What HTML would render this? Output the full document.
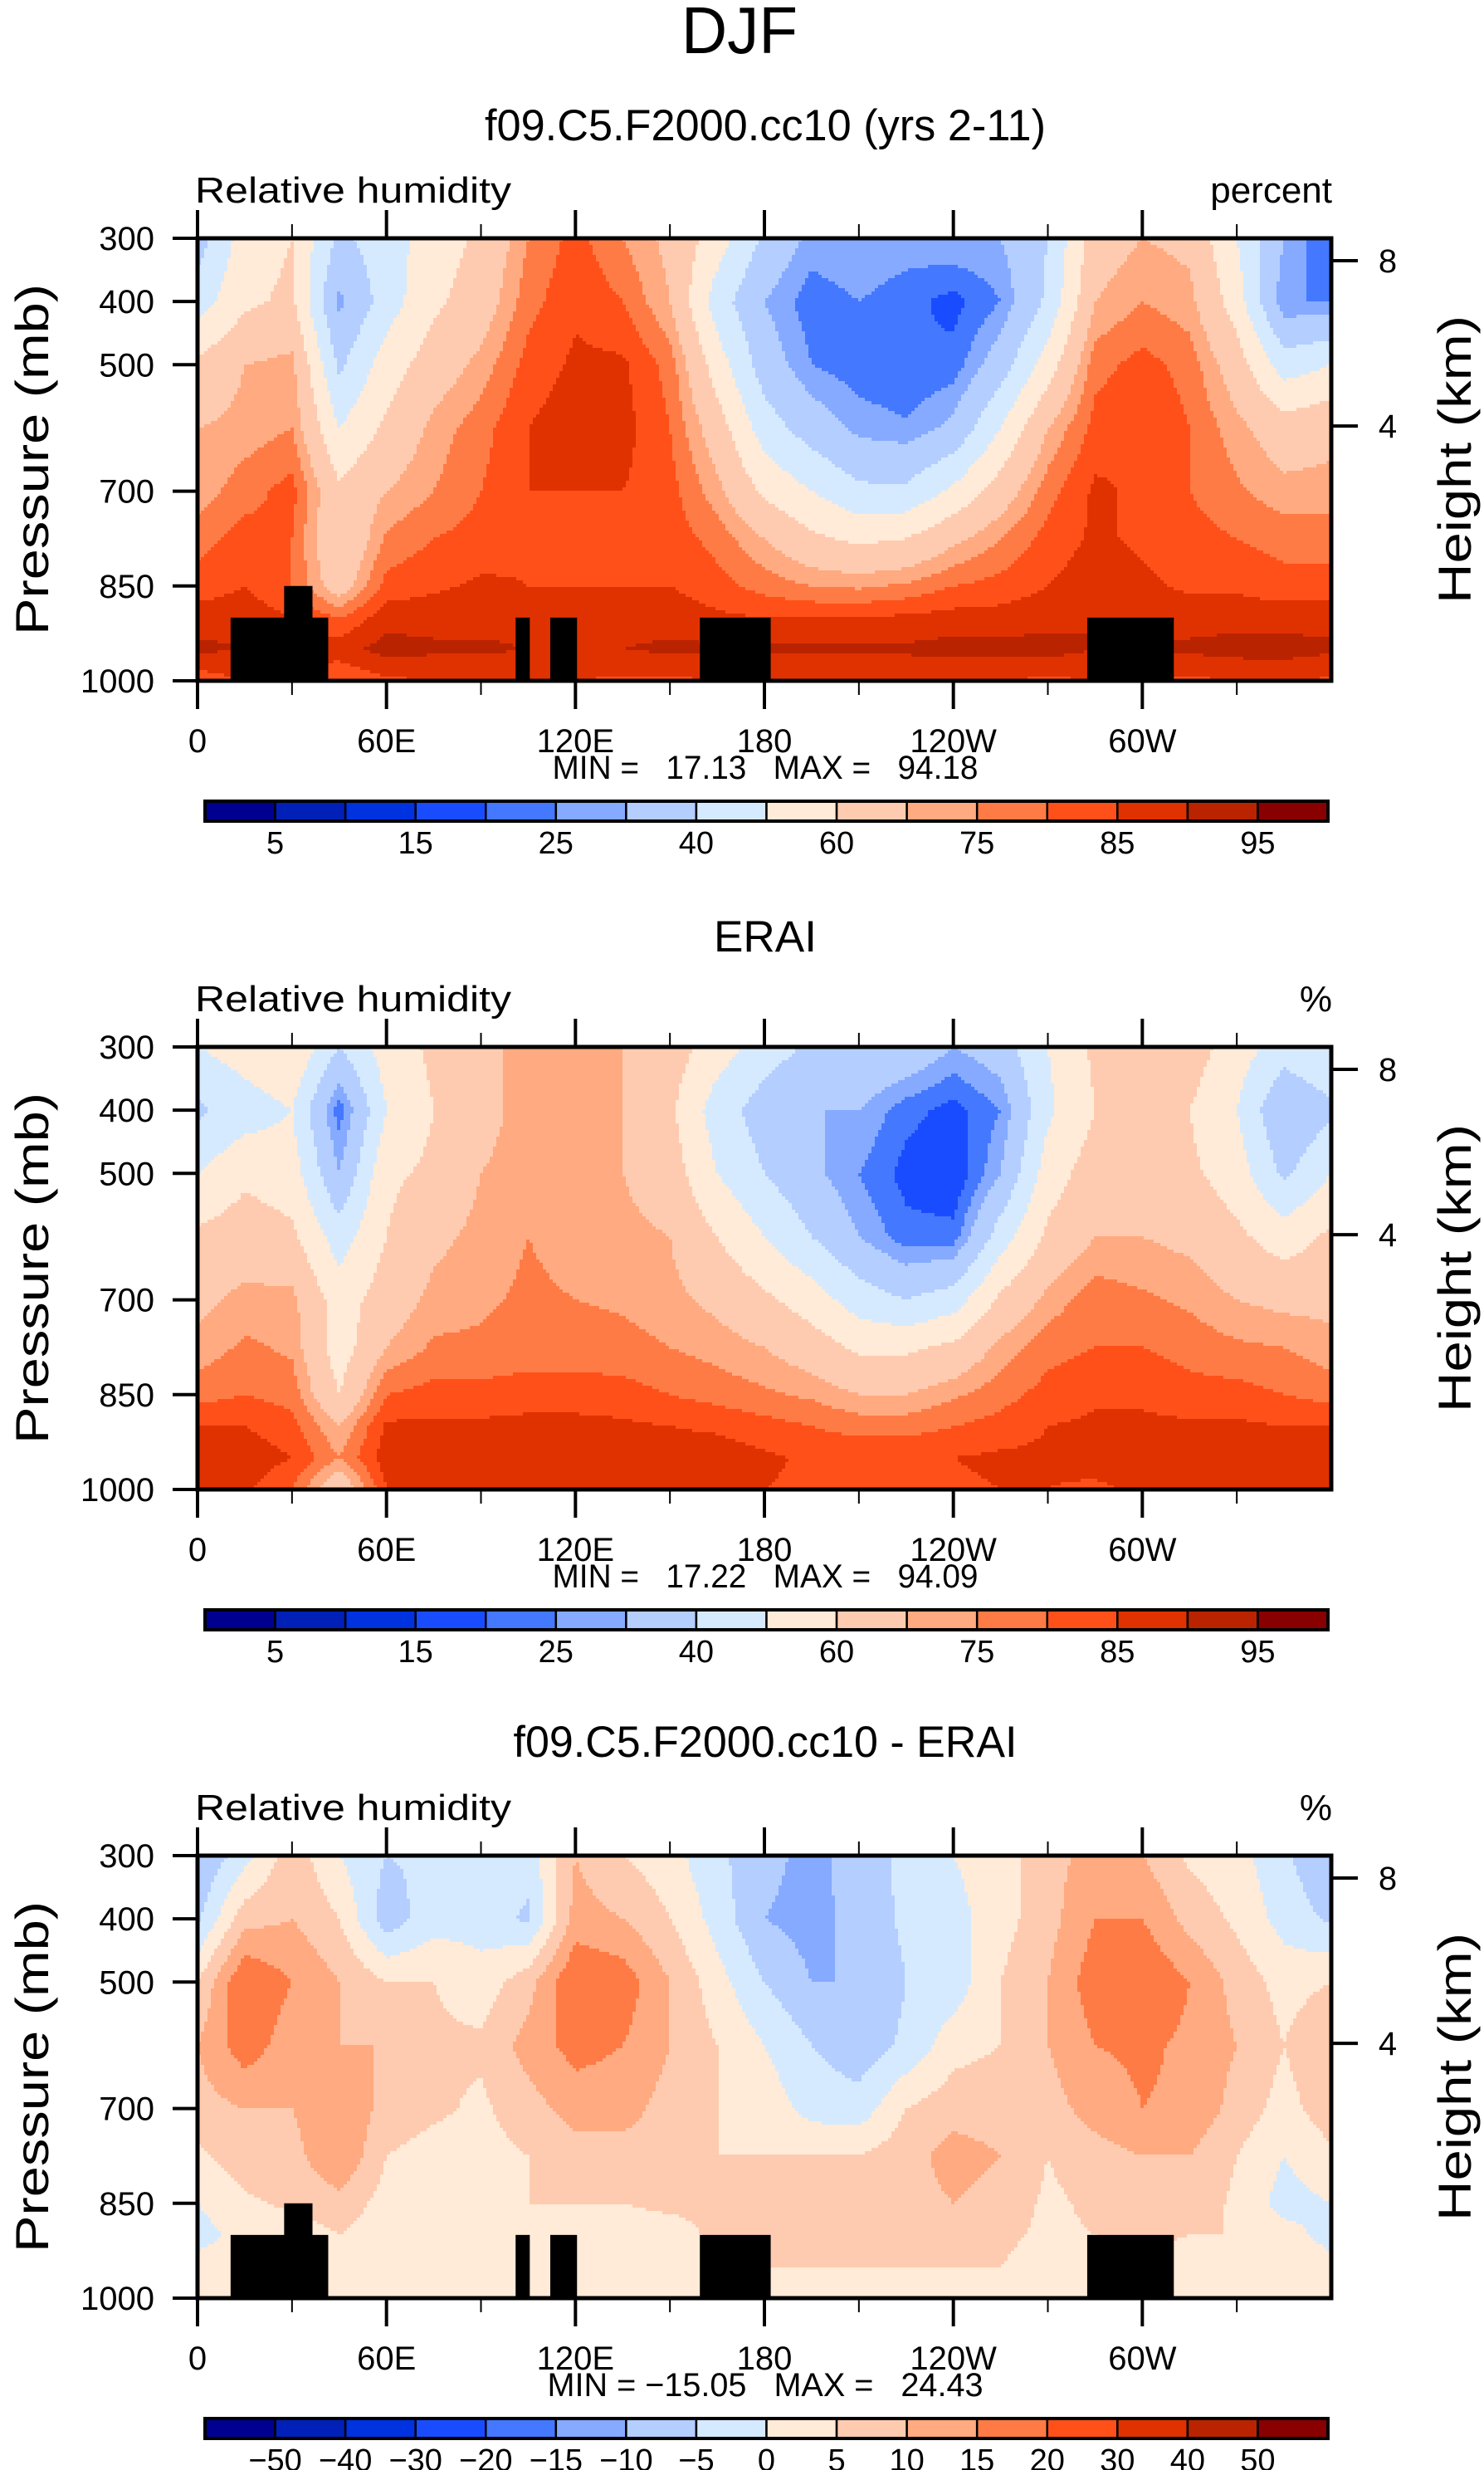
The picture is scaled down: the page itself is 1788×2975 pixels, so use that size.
<!DOCTYPE html>
<html><head><meta charset="utf-8"><style>
html,body{margin:0;padding:0;background:#fff;}
svg{display:block;font-family:"Liberation Sans",sans-serif;}
</style></head><body>
<svg id="fig" xmlns="http://www.w3.org/2000/svg" width="1788" height="2975" viewBox="0 0 1788 2975">
<rect x="0" y="0" width="1788" height="2975" fill="#fff"/>
<text x="891" y="64" font-size="80" text-anchor="middle" textLength="140" lengthAdjust="spacingAndGlyphs">DJF</text>
</svg>
<script>
const lons=[0,15,30,45,60,75,90,105,120,135,150,165,180,195,210,225,240,255,270,285,300,315,330,345,360];
const pressures=[300,400,500,600,700,775,850,900,950,1000];
const rhModel=[
[35,45,62,70,72,78,82,88,91,82],[55,58,70,72,78,82,85,88,90,85],[60,62,72,75,82,80,80,85,88,85],
[38,28,38,50,62,60,65,80,88,80],[45,45,55,62,70,76,82,88,92,84],[55,58,65,72,75,80,84,88,91,85],
[62,65,72,78,80,82,86,88,91,85],[75,78,82,85,85,84,85,88,90,85],[82,84,86,88,85,84,85,88,90,85],
[75,80,86,87,85,83,85,88,90,84],[68,70,78,80,82,83,85,88,91,84],[55,45,55,65,72,78,82,86,91,85],
[38,30,35,45,58,70,78,85,91,85],[28,22,25,35,50,62,75,85,91,85],[30,25,22,28,42,58,74,85,91,85],
[28,22,20,26,42,60,76,86,91,85],[30,18,22,32,52,68,80,87,92,85],[30,25,35,50,65,75,82,87,92,85],
[40,42,55,70,78,82,85,88,92,84],[65,70,78,82,86,86,88,90,90,85],[70,75,82,85,84,84,86,88,90,85],
[68,72,78,80,80,82,84,88,91,84],[50,55,65,72,76,80,84,88,92,85],[30,25,45,65,72,78,82,88,92,86],
[20,25,50,68,72,78,82,88,91,84]];
const rhObs=[
[50,38,50,62,68,72,78,85,88,85],[55,45,58,65,72,76,80,85,88,86],[60,50,55,62,72,74,78,82,85,80],
[40,22,30,45,55,55,60,70,75,62],[55,50,58,60,65,70,80,86,88,85],[62,60,62,68,72,76,82,86,89,86],
[68,68,70,72,74,76,82,86,89,86],[72,72,72,75,76,78,82,87,89,86],[72,72,72,73,75,78,82,87,89,86],
[70,70,70,72,74,77,82,86,89,86],[65,62,65,70,72,75,80,85,88,86],[55,45,50,60,68,73,78,84,88,86],
[45,35,40,50,62,70,76,82,86,85],[38,30,32,40,55,65,74,80,84,84],[40,30,25,30,45,58,70,78,84,84],
[38,22,18,22,40,58,70,78,84,84],[30,18,15,22,45,62,74,80,85,84],[35,25,30,45,62,72,78,82,86,85],
[50,48,55,62,72,78,82,85,86,85],[62,60,65,70,78,80,84,86,87,84],[65,62,65,70,76,80,84,86,88,86],
[65,60,62,68,74,78,82,86,88,86],[55,50,55,62,70,76,82,86,88,86],[45,30,38,55,68,75,80,85,87,86],
[50,38,50,62,68,72,78,85,88,85]];
const rhDiff=[
[-10,-6,5,10,8,4,0,-2,2,2],[-2,8,20,18,10,8,4,2,2,2],[8,10,15,12,10,8,6,2,2,2],
[0,5,10,10,15,15,8,5,3,3],[-5,-8,5,10,8,5,3,2,2,2],[-4,-2,5,6,6,3,3,3,2,2],
[0,-2,2,6,4,3,3,3,2,2],[-3,-6,8,12,8,5,5,2,2,1],[10,12,20,17,12,8,5,3,2,2],
[5,10,18,15,12,8,5,3,2,2],[2,5,10,10,8,8,6,3,2,2],[-4,-2,2,5,5,5,6,6,4,2],
[-8,-10,-5,0,3,5,6,6,5,3],[-12,-12,-10,-5,-2,5,6,6,5,3],[-7,-8,-10,-8,-3,5,7,7,5,3],
[-4,-4,-5,-4,5,8,8,7,5,3],[0,-2,-3,3,8,12,10,8,5,3],[3,3,5,5,8,10,8,6,5,3],
[8,8,10,10,8,5,4,4,3,2],[12,15,18,15,12,8,6,5,3,2],[10,15,20,16,15,10,8,6,4,2],
[4,8,15,14,14,10,8,5,3,2],[2,4,8,10,8,5,4,5,3,2],[-4,-2,3,5,3,0,-2,2,3,2],
[-10,-6,5,10,8,4,0,-2,2,2]];
const levelsRH=[5,10,15,20,25,30,40,50,60,70,75,80,85,90,95];
const levelsDiff=[-50,-40,-30,-20,-15,-10,-5,0,5,10,15,20,30,40,50];
const cbLabelsRH=["","5","","15","","25","","40","","60","","75","","85","","95"];
const cbLabelsDiff=["\u221250","\u221240","\u221230","\u221220","\u221215","\u221210","\u22125","0","5","10","15","20","30","40","50"];
const landLonStart=[10.5,27.5,101,112,159.5,282.5];
const landLonEnd=[41.5,36.5,105.5,120.5,182,310];
const landTopP=[900,850,900,900,900,900];
const lonTickVals=[0,60,120,180,240,300];
const lonTickLabels=["0","60E","120E","180","120W","60W"];
const pTickVals=[300,400,500,700,850,1000];
const hTickVals=[8,4];
const hTickPressure=[335.5,597];
const colors=["#000090","#0020b8","#0032e0","#1a4cff","#4478ff","#85aaff","#b4ceff","#d6eaff","#ffebd7","#ffcbb0","#ffaa80","#ff7b45","#ff5019","#e03200","#b92300","#880000"];

const NS="http://www.w3.org/2000/svg";
const svg=document.getElementById('fig');
const X0=238,X1=1604,PH=533,W=X1-X0;
function xS(lon){return X0+lon/360*W;}
function mk(tag,attrs,parent){const e=document.createElementNS(NS,tag);for(const k in attrs)e.setAttribute(k,attrs[k]);(parent||svg).appendChild(e);return e;}
function txt(s,attrs,parent){const e=mk('text',attrs,parent);e.textContent=s;return e;}
function sample(grid,lon,p){
  let i=Math.min(Math.floor(lon/15),23);let fx=(lon-lons[i])/15;
  let j=0;while(j<pressures.length-2&&p>pressures[j+1])j++;
  let fy=(p-pressures[j])/(pressures[j+1]-pressures[j]);
  const a=grid[i][j],b=grid[i+1][j],c=grid[i][j+1],d=grid[i+1][j+1];
  return (a*(1-fx)+b*fx)*(1-fy)+(c*(1-fx)+d*fx)*fy;
}
function lvl(v,levels){let k=0;for(const L of levels)if(v>=L)k++;return k;}

function panel(cfg){
  const top=cfg.top;
  const yS=p=>top+(p-300)/700*PH;
  const g=mk('g',{});
  
  
  txt(cfg.title,{x:922,y:cfg.titleY,'font-size':53,'text-anchor':'middle',textLength:cfg.titleLen,lengthAdjust:'spacingAndGlyphs',},g);
  txt('Relative humidity',{x:235,y:top-43,'font-size':44,textLength:381,lengthAdjust:'spacingAndGlyphs',},g);
  txt(cfg.units,{x:1605,y:top-43,'font-size':44,'text-anchor':'end',},g);
  const fg=mk('g',{},g);
  
  
  const step=4;
  for(let py=0;py<PH;py+=step){
    const p=300+Math.min(py+step/2,PH)/PH*700;
    const h=Math.min(step,PH-py)+0.6;
    let runStart=0,runC=-1;
    for(let px=0;px<W;px+=step){
      const lon=Math.min(px+step/2,W)/W*360;
      const c=lvl(sample(cfg.grid,lon,p),cfg.levels);
      if(c!==runC){
        if(runC>=0)mk('rect',{x:X0+runStart,y:top+py,width:px-runStart+0.6,height:h,fill:colors[runC]},fg);
        runStart=px;runC=c;
      }
    }
    mk('rect',{x:X0+runStart,y:top+py,width:W-runStart,height:h,fill:colors[runC]},fg);
  }
  if(cfg.land){for(let i=0;i<landLonStart.length;i++){
    const r=mk('rect',{x:xS(landLonStart[i]),y:yS(landTopP[i]),width:xS(landLonEnd[i])-xS(landLonStart[i]),height:yS(1000)-yS(landTopP[i]),fill:'#000'},g);
    
    
  }}
  mk('rect',{x:X0,y:top,width:W,height:PH,fill:'none',stroke:'#000','stroke-width':5,},g);
  for(let lon=0;lon<360;lon+=30){
    const maj=lon%60===0,len=maj?34:17,x=xS(lon);
    mk('line',{x1:x,x2:x,y1:top,y2:top-len,stroke:'#000','stroke-width':maj?4:2},g);
    mk('line',{x1:x,x2:x,y1:top+PH,y2:top+PH+len,stroke:'#000','stroke-width':maj?4:2},g);
  }
  lonTickVals.forEach((v,i)=>{txt(lonTickLabels[i],{x:xS(v),y:top+PH+86,'font-size':40,'text-anchor':'middle',},g);});
  pTickVals.forEach(v=>{
    mk('line',{x1:X0-30,x2:X0,y1:yS(v),y2:yS(v),stroke:'#000','stroke-width':4},g);
    txt(String(v),{x:186,y:yS(v)+14,'font-size':40,'text-anchor':'end',},g);
  });
  hTickVals.forEach((v,i)=>{
    const y=yS(hTickPressure[i]);
    mk('line',{x1:X1,x2:X1+32,y1:y,y2:y,stroke:'#000','stroke-width':4},g);
    txt(String(v),{x:1672,y:y+14,'font-size':40,'text-anchor':'middle',},g);
  });
  const cy=top+PH/2;
  txt('Pressure (mb)',{x:0,y:0,'font-size':56,'text-anchor':'middle',textLength:423,lengthAdjust:'spacingAndGlyphs',transform:`translate(58,${cy}) rotate(-90)`,},g);
  txt('Height (km)',{x:0,y:0,'font-size':56,'text-anchor':'middle',textLength:347,lengthAdjust:'spacingAndGlyphs',transform:`translate(1772,${cy}) rotate(-90)`,},g);
  const mm=txt(cfg.minmax,{x:922,y:top+PH+118,'font-size':40,'text-anchor':'middle',textLength:cfg.mmLen,lengthAdjust:'spacingAndGlyphs',},g);
  mm.style.whiteSpace='pre';
  const cb=mk('g',{},g);
  
  
  const cbY=top+678,bx0=247,bw=(1600-247)/16;
  colors.forEach((c,i)=>{
    const r=mk('rect',{x:bx0+i*bw,y:cbY,width:bw,height:24,fill:c,stroke:'#000','stroke-width':2.5},cb);
    
    
  });
  mk('rect',{x:bx0,y:cbY,width:1600-bx0,height:24,fill:'none',stroke:'#000','stroke-width':4},cb);
  cfg.cbLabels.forEach((s,i)=>{
    if(!s)return;
    const idx=cfg.cbOffset+i;
    txt(s,{x:bx0+idx*bw,y:cbY+63,'font-size':38,'text-anchor':'middle',},cb);
  });
}
panel({name:'model-panel',top:287,title:'f09.C5.F2000.cc10 (yrs 2-11)',titleY:169,titleLen:676,units:'percent',grid:rhModel,levels:levelsRH,land:true,minmax:'MIN =   17.13   MAX =   94.18',mmLen:513,cbLabels:cbLabelsRH,cbOffset:0});
panel({name:'erai-panel',top:1261,title:'ERAI',titleY:1146,titleLen:124,units:'%',grid:rhObs,levels:levelsRH,land:false,minmax:'MIN =   17.22   MAX =   94.09',mmLen:513,cbLabels:cbLabelsRH,cbOffset:0});
panel({name:'difference-panel',top:2235,title:'f09.C5.F2000.cc10 - ERAI',titleY:2116,titleLen:607,units:'%',grid:rhDiff,levels:levelsDiff,land:true,minmax:'MIN = \u221215.05   MAX =   24.43',mmLen:525,cbLabels:cbLabelsDiff,cbOffset:1});
</script>
</body></html>
